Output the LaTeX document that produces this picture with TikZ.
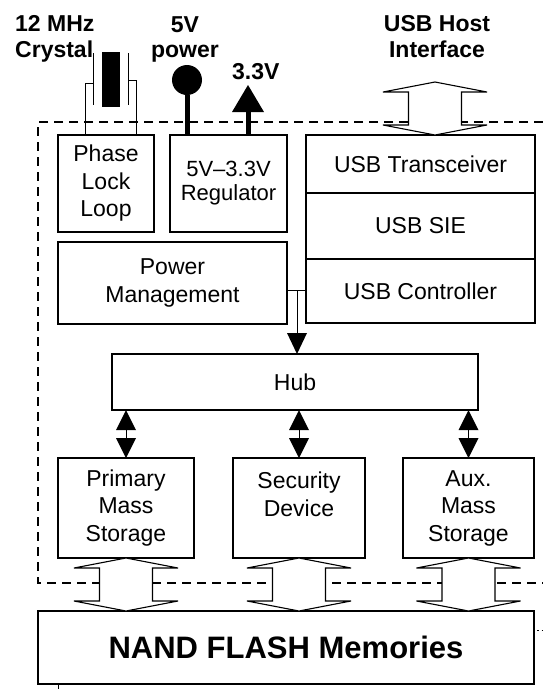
\documentclass[tikz,border=0pt]{standalone}
\usepackage{fontspec}
\setmainfont{Liberation Sans}
\usetikzlibrary{
  arrows.meta,
  positioning,
  calc
}

\begin{document}
\begin{tikzpicture}[
      x=1pt, y=-1pt,
      block/.style={
         rectangle,
         draw=black,
         line width=1.1pt,
         inner sep=0pt,
         outer sep=0pt,
         align=center,
         font=\fontsize{23}{27.5}\selectfont
      },
      extern/.style={
         inner sep=0pt,
         font=\fontsize{23}{25.5}\selectfont\bfseries
      },
      frame/.style={line width=1.2pt, dash pattern=on 9pt off 6pt},
      wire/.style={line width=1pt},
      rail/.style={line width=5pt},
      tip/.style={wire, -{Triangle[length=21pt,width=20pt,line width=0pt]}},
      dbl/.style={wire, {Triangle[length=20pt,width=20pt,line width=0pt]}-{Triangle[length=20pt,width=20pt,line width=0pt]}},
      bus/.style={
         line width=1.1pt, fill=white,
         to path={let \p1=(\tikztostart), \p2=(\tikztotarget) in
            (\x1,\y1) -- (\x1-52pt,\y1-10pt) -- (\x1-26.5pt,\y1-10pt)
            -- (\x1-26.5pt,\y2+10pt) -- (\x1-52pt,\y2+10pt) -- (\x1,\y2)
            -- (\x1+52pt,\y2+10pt) -- (\x1+26.5pt,\y2+10pt)
            -- (\x1+26.5pt,\y1-10pt) -- (\x1+52pt,\y1-10pt) -- cycle}
      }
    ]
    \useasboundingbox (0,0) rectangle (543,689);

    % chip outline, open to the right
    \draw[frame] (543,122) -- (38,122) -- (38,583) -- (543,583);

    \node (pll) [block, minimum width=96pt, minimum height=97pt] at (106,183.5) {Phase\\Lock\\Loop};
    \node (reg) [block, minimum width=117pt, minimum height=97pt, font=\fontsize{22}{24}\selectfont] at (228.5,183.5) {5V--3.3V\\Regulator};
    \node (xcvr) [block, minimum width=229pt, minimum height=58pt] at (420.5,164) {USB Transceiver};
    \node (sie) [block, minimum width=229pt, minimum height=66pt, below=0pt of xcvr] {USB SIE};
    \node (ctrl) [block, minimum width=229pt, minimum height=64pt, below=0pt of sie] {USB Controller};
    \node (pwr) [block, minimum width=229pt, minimum height=82pt] at (172.5,283) {Power\\Management};
    \node (hub) [block, minimum width=366pt, minimum height=56pt] at (295,382) {Hub};
    \node (pms) [block, minimum width=136pt, minimum height=100pt] at (126,508) {Primary\\Mass\\Storage};
    \node (sec) [block, minimum width=132pt, minimum height=100pt] at (299,508) {Security\\Device\\\mbox{}};
    \node (aux) [block, minimum width=131pt, minimum height=100pt] at (468.5,508) {Aux.\\Mass\\Storage};
    \node (nand) [block, minimum width=496pt, minimum height=73pt, font=\fontsize{31}{36}\selectfont\bfseries] at (286,647.5) {NAND FLASH Memories};

    \node (xtal) [extern, anchor=north west, align=left] at (15,15.5) {12 MHz\\Crystal};
    \node (vinlbl) [extern, anchor=north, align=center] at (185,16) {5V\\power};
    \node (voutlbl) [extern, anchor=north west] at (232,63.5) {3.3V};
    \node (hostlbl) [extern, anchor=north, align=center] at (437,15.5) {USB Host\\Interface};

    % crystal
    \fill (102,52) rectangle (120,107);
    \draw[wire] (93,53) -- (93,105) (128,53) -- (128,105);
    \draw[wire] (93,83) -- (85,83) -- (85,83 |- pll.north);
    \draw[wire] (128,80) -- (136,80) -- (136,80 |- pll.north);

    % supply
    \node (vin) [circle, fill, inner sep=0pt, minimum size=30pt] at (187,80) {};
    \draw[rail] (vin) -- (vin |- reg.north);
    \coordinate (vout) at (248,85);
    \draw[rail, -{Triangle[length=27pt,width=32pt,line width=0pt]}] (vout |- reg.north) -- (vout);

    \coordinate (jn) at (297,290);
    \draw[wire] (pwr.east |- jn) -- (ctrl.west |- jn);
    \draw[tip] (jn) -- (jn |- hub.north);
    \draw[dbl] (pms.north |- hub.south) -- (pms.north);
    \draw[dbl] (sec.north |- hub.south) -- (sec.north);
    \draw[dbl] (aux.north |- hub.south) -- (aux.north);

    \coordinate (host) at (435,82);
    \draw[bus] (host) to (host |- xcvr.north);
    \draw[bus] (pms.south) to (pms.south |- nand.north);
    \draw[bus] (sec.south) to (sec.south |- nand.north);
    \draw[bus] (aux.south) to (aux.south |- nand.north);

    \draw[wire, dash pattern=on 1.5pt off 3pt] (537,630) -- (543,630);
    \draw[wire] (58,684) -- (58,689);
\end{tikzpicture}
\end{document}
